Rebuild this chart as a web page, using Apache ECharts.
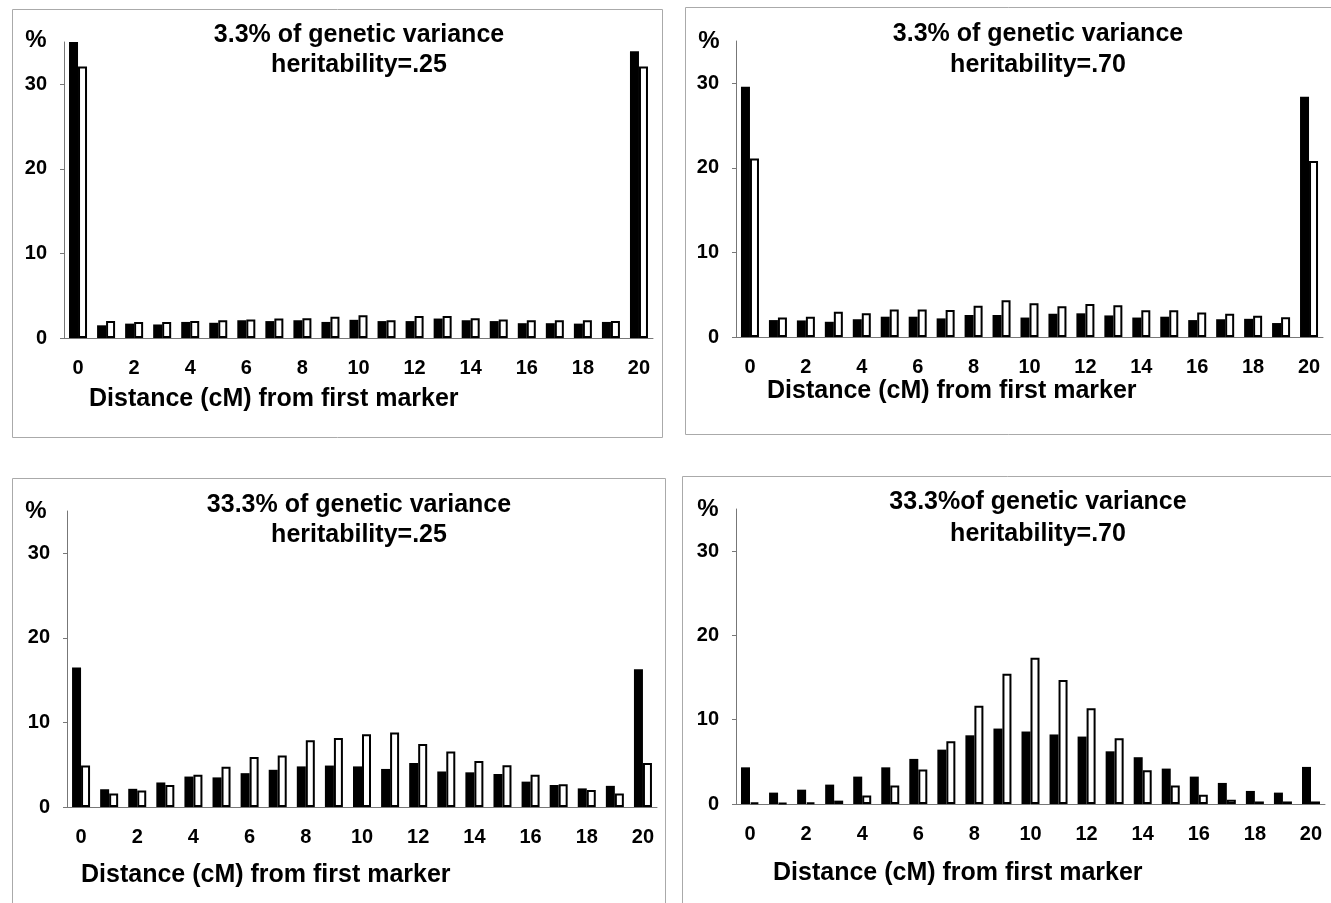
<!DOCTYPE html>
<html>
<head>
<meta charset="utf-8">
<script src="https://cdn.jsdelivr.net/npm/echarts@6/dist/echarts.min.js"></script>
<style>
html,body{margin:0;padding:0;background:#fff;}
#c{width:1331px;height:903px;}
</style>
</head>
<body>
<div id="c"></div>
<script>
// ---- data ----
var categories = ['0','1','2','3','4','5','6','7','8','9','10','11','12','13','14','15','16','17','18','19','20'];
var yTicks = [0, 10, 20, 30];

var p1Black = [35.0, 1.5, 1.7, 1.6, 1.9, 1.8, 2.1, 2.0, 2.1, 1.9, 2.15, 2.0, 2.0, 2.3, 2.1, 2.0, 1.75, 1.75, 1.7, 1.9, 33.9];
var p1White = [32.1, 2.0, 1.9, 1.9, 2.0, 2.1, 2.2, 2.3, 2.35, 2.5, 2.7, 2.1, 2.6, 2.6, 2.35, 2.2, 2.1, 2.1, 2.1, 2.0, 32.1];

var p2Black = [29.6, 2.0, 1.96, 1.8, 2.1, 2.4, 2.4, 2.2, 2.6, 2.6, 2.3, 2.75, 2.8, 2.55, 2.3, 2.4, 2.0, 2.1, 2.15, 1.65, 28.4];
var p2White = [21.1, 2.3, 2.4, 3.0, 2.8, 3.25, 3.25, 3.2, 3.7, 4.35, 4.0, 3.65, 3.9, 3.75, 3.15, 3.15, 2.9, 2.75, 2.5, 2.35, 20.8];

var p3Black = [16.5, 2.1, 2.15, 2.9, 3.6, 3.5, 4.0, 4.4, 4.8, 4.9, 4.8, 4.5, 5.2, 4.2, 4.1, 3.9, 3.0, 2.6, 2.2, 2.5, 16.3];
var p3White = [4.9, 1.6, 1.95, 2.6, 3.8, 4.75, 5.9, 6.1, 7.9, 8.15, 8.6, 8.8, 7.45, 6.55, 5.45, 4.95, 3.8, 2.7, 2.0, 1.6, 5.2];

var p4Black = [4.35, 1.35, 1.7, 2.3, 3.25, 4.35, 5.35, 6.45, 8.15, 8.95, 8.6, 8.25, 8.0, 6.25, 5.55, 4.2, 3.25, 2.5, 1.55, 1.35, 4.4];
var p4White = [0.15, 0.1, 0.15, 0.4, 1.0, 2.2, 4.1, 7.45, 11.65, 15.45, 17.35, 14.7, 11.35, 7.8, 4.0, 2.2, 1.1, 0.5, 0.3, 0.3, 0.3];

var titles1 = ['3.3% of genetic variance', '3.3% of genetic variance', '33.3% of genetic variance', '33.3%of genetic variance'];
var titles2 = ['heritability=.25', 'heritability=.70', 'heritability=.25', 'heritability=.70'];
var xName = 'Distance (cM) from first marker';
var yName = '%';

// ---- layout ----
var FONT = '"Liberation Sans", Arial, sans-serif';
var grids = [
  {left: 64, top: 42, width: 589, height: 296},
  {left: 736, top: 41, width: 587, height: 296},
  {left: 67, top: 511, width: 590, height: 296},
  {left: 736, top: 509, width: 589, height: 295}
];
var blacks = [p1Black, p2Black, p3Black, p4Black];
var whites = [p1White, p2White, p3White, p4White];

var titlePos = [
  {x: 359, y1: 35, y2: 65},
  {x: 1038, y1: 34, y2: 65},
  {x: 359, y1: 505, y2: 535},
  {x: 1038, y1: 502, y2: 534}
];
var pctPos = [[36, 40], [709, 41], [36, 511], [708, 509]];
var namePos = [[89, 399], [767, 391], [81, 875], [773, 873]];
var frames = [
  {x: 12, y: 9, w: 650, h: 428},
  {x: 685, y: 7, w: 660, h: 427},
  {x: 12, y: 478, w: 653, h: 440},
  {x: 682, y: 476, w: 670, h: 440}
];

var xAxes = [], yAxes = [], series = [], graphic = [];
for (var i = 0; i < 4; i++) {
  xAxes.push({
    type: 'category', gridIndex: i, data: categories,
    axisLine: {lineStyle: {color: '#777', width: 1}},
    axisTick: {show: false},
    axisLabel: {interval: 1, margin: 20, color: '#000', fontSize: 20, fontWeight: 'bold', fontFamily: FONT}
  });
  yAxes.push({
    type: 'value', gridIndex: i, min: 0, max: 35, interval: 10,
    splitLine: {show: false},
    axisLine: {show: true, lineStyle: {color: '#777', width: 1}},
    axisTick: {show: true, length: 4, customValues: yTicks, lineStyle: {color: '#777'}},
    axisLabel: {margin: 17, color: '#000', fontSize: 20, fontWeight: 'bold', fontFamily: FONT,
      customValues: yTicks,
      formatter: function (v) { return v > 30 ? '' : String(v); }}
  });
  series.push({
    type: 'bar', xAxisIndex: i, yAxisIndex: i, data: blacks[i],
    barWidth: 9, barGap: '0%',
    itemStyle: {color: '#000'}, silent: true
  });
  series.push({
    type: 'bar', xAxisIndex: i, yAxisIndex: i, data: whites[i],
    barWidth: 9, barGap: '0%',
    itemStyle: {color: '#fff', borderColor: '#000', borderWidth: 2}, silent: true
  });

  var f = frames[i];
  graphic.push({type: 'rect', shape: {x: f.x + 0.5, y: f.y + 0.5, width: f.w, height: f.h},
    style: {fill: 'none', stroke: '#aaa', lineWidth: 1}, silent: true, z: -1});
  graphic.push({type: 'text', x: titlePos[i].x, y: titlePos[i].y1,
    style: {text: titles1[i], font: 'bold 25px ' + FONT, fill: '#000', textAlign: 'center', textVerticalAlign: 'middle'}});
  graphic.push({type: 'text', x: titlePos[i].x, y: titlePos[i].y2,
    style: {text: titles2[i], font: 'bold 25px ' + FONT, fill: '#000', textAlign: 'center', textVerticalAlign: 'middle'}});
  graphic.push({type: 'text', x: pctPos[i][0], y: pctPos[i][1],
    style: {text: yName, font: 'bold 24px ' + FONT, fill: '#000', textAlign: 'center', textVerticalAlign: 'middle'}});
  graphic.push({type: 'text', x: namePos[i][0], y: namePos[i][1],
    style: {text: xName, font: 'bold 25px ' + FONT, fill: '#000', textAlign: 'left', textVerticalAlign: 'middle'}});
}

var chart = echarts.init(document.getElementById('c'), null, {renderer: 'canvas'});
chart.setOption({
  backgroundColor: '#fff',
  animation: false,
  grid: grids,
  xAxis: xAxes,
  yAxis: yAxes,
  series: series,
  graphic: graphic
});
</script>
</body>
</html>
